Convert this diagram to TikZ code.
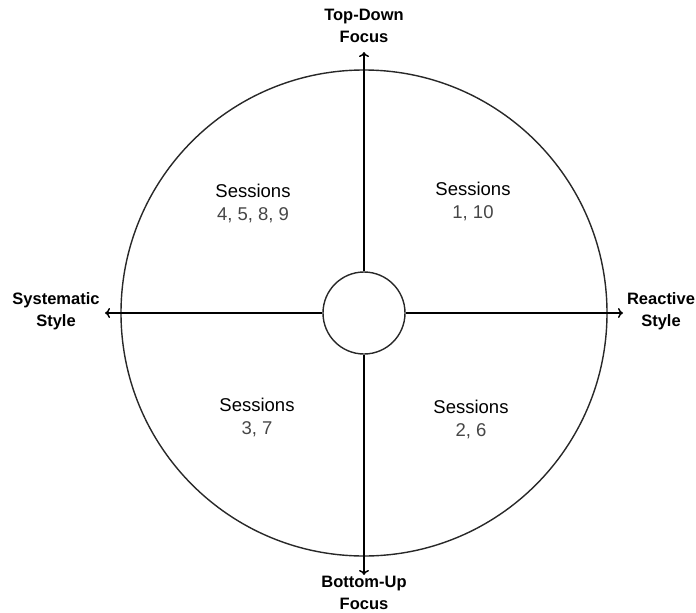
\documentclass[tikz,border=0pt]{standalone}
\usepackage{fontspec}
\setmainfont{Liberation Sans}
\usetikzlibrary{arrows.meta}
\definecolor{RingGray}{RGB}{40, 40, 40}
\definecolor{NumGray}{RGB}{70, 70, 70}

\begin{document}
\begin{tikzpicture}[x=1pt, y=-1pt,
    axis/.style={line width=1.4pt, -{To[length=5pt, width=10pt]}},
    pole/.style={font=\bfseries\fontsize{16.5}{22}\selectfont, align=center, inner sep=0pt},
    quad/.style={font=\fontsize{18.5}{23}\selectfont, align=center, inner sep=0pt}]
    \useasboundingbox (0,0) rectangle (696,613);

    % Outer ring
    \draw[RingGray, line width=1.4pt] (364,313) circle[radius=243];

    % Axis ends
    \coordinate (topEnd) at (364,52);
    \coordinate (bottomEnd) at (364,575);
    \coordinate (leftEnd) at (105,313);
    \coordinate (rightEnd) at (623,313);

    % Hub
    \node[circle, draw=RingGray, line width=1.4pt, fill=white, minimum size=82pt, inner sep=0pt] (hub) at (364,313) {};

    % Axes
    \draw[axis] (hub.north) -- (topEnd);
    \draw[axis] (hub.south) -- (bottomEnd);
    \draw[axis] (hub.west) -- (leftEnd);
    \draw[axis] (hub.east) -- (rightEnd);

    % Pole labels
    \node[pole] (topDown) at (364,26) {Top-Down\\Focus};
    \node[pole] (bottomUp) at (364,593) {Bottom-Up\\Focus};
    \node[pole] (systematic) at (56,311) {Systematic\\Style};
    \node[pole] (reactive) at (661,311) {Reactive\\Style};

    % Quadrants
    \node[quad] (quadTL) at (253,203) {Sessions\\{\color{NumGray}4, 5, 8, 9}};
    \node[quad] (quadTR) at (473,201) {Sessions\\{\color{NumGray}1, 10}};
    \node[quad] (quadBL) at (257,417) {Sessions\\{\color{NumGray}3, 7}};
    \node[quad] (quadBR) at (471,419) {Sessions\\{\color{NumGray}2, 6}};
\end{tikzpicture}
\end{document}
